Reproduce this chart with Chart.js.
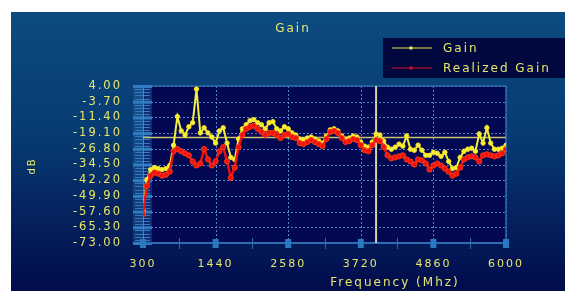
<!DOCTYPE html>
<html>
<head>
<meta charset="utf-8">
<script src="https://cdn.jsdelivr.net/npm/chart.js@4.4.1/dist/chart.umd.min.js"></script>
<style>
  html, body { margin: 0; padding: 0; background: #fff; }
  canvas { display: block; }
</style>
</head>
<body>
<canvas id="mycanvas" width="565" height="291"></canvas>
<script>
// frequency points (MHz)
var freqs = [
  300, 360, 420, 480, 540, 600, 660, 720, 780, 840, 900, 960,
  1020, 1080, 1140, 1200, 1260, 1320, 1380, 1440, 1500, 1560, 1620, 1680,
  1740, 1800, 1860, 1920, 1980, 2040, 2100, 2160, 2220, 2280, 2340, 2400,
  2460, 2520, 2580, 2640, 2700, 2760, 2820, 2880, 2940, 3000, 3060, 3120,
  3180, 3240, 3300, 3360, 3420, 3480, 3540, 3600, 3660, 3720, 3780, 3840,
  3900, 3960, 4020, 4080, 4140, 4200, 4260, 4320, 4380, 4440, 4500, 4560,
  4620, 4680, 4740, 4800, 4860, 4920, 4980, 5040, 5100, 5160, 5220, 5280,
  5340, 5400, 5460, 5520, 5580, 5640, 5700, 5760, 5820, 5880, 5940, 6000
];

var gain = [
  -57, -42, -37, -36, -36.5, -37, -36.5, -35, -25, -11, -18, -20,
  -16, -14, 2.5, -19, -16.5, -19, -21, -24, -18, -16.5, -24, -31,
  -32, -22, -17, -15, -13, -12.5, -14, -15, -17, -14, -13.5, -17,
  -18, -16, -17, -19, -20, -22, -22.5, -21.5, -21, -22, -23, -24,
  -20.5, -17.5, -17, -18, -20.5, -22, -21.5, -20.5, -21, -23.5, -25.5, -26,
  -23.5, -19.5, -20, -23, -26, -27, -26, -24.5, -25.5, -20.5, -27, -27.5,
  -25, -27.5, -30, -30, -28.5, -29, -30.5, -28.5, -33, -36.5, -36, -31,
  -28, -27, -26.5, -28, -19.5, -24, -16.5, -24, -27, -27, -26.5, -25
];

var realizedGain = [
  -58.8, -45, -40, -38.5, -39, -40, -39.5, -38, -28, -27, -28, -29,
  -30, -33, -35, -34, -27, -32, -35, -33, -28, -26, -33, -41,
  -36, -26, -20, -17, -16, -15.5, -17, -18.5, -20, -19, -19, -20,
  -21.5, -20, -19.5, -21, -21.5, -24, -24.5, -23.5, -22.5, -23.5, -24.5, -25.5,
  -22, -18.5, -18, -19, -21.5, -23.5, -23, -22, -22.5, -25, -27.5, -28,
  -25, -22.5, -23, -26, -30, -31.5, -31, -30.5, -30, -32, -33, -34.5,
  -32, -32.5, -34, -37, -35, -34, -35, -36.5, -38, -40, -39, -36,
  -32, -31, -30.5, -31, -33, -30, -29.5, -30, -30.5, -30, -29, -27
];

var xTicks = [300, 1440, 2580, 3720, 4860, 6000];
var yTicks = [4.00, -3.70, -11.40, -19.10, -26.80, -34.50, -42.20, -49.90, -57.60, -65.30, -73.00];

// marker lines
var markerY = -21.3;
var markerX = 3960;

var yellow = '#f2f03a';
var txt = '#e8e66a';

function pts(xs, ys) {
  var out = [];
  for (var i = 0; i < xs.length; i++) out.push({ x: xs[i], y: ys[i] });
  return out;
}

var decor = {
  id: 'decor',
  beforeDraw: function(chart) {
    var ctx = chart.ctx, a = chart.chartArea;
    ctx.save();
    ctx.fillStyle = '#ffffff';
    ctx.fillRect(0, 0, 565, 291);
    var g = ctx.createLinearGradient(0, 12, 0, 291);
    g.addColorStop(0, '#0c4b80');
    g.addColorStop(0.45, '#073a72');
    g.addColorStop(1, '#020b4c');
    ctx.fillStyle = g;
    ctx.fillRect(11, 12, 554, 279);
    // plot area
    ctx.fillStyle = '#020852';
    ctx.fillRect(a.left, a.top, a.right - a.left, a.bottom - a.top);
    ctx.restore();
    ctx.letterSpacing = '2px';
  },
  beforeDatasetsDraw: function(chart) {
    var ctx = chart.ctx, a = chart.chartArea;
    var ys = chart.scales.y, xs = chart.scales.x;
    ctx.save();
    // dotted grid
    ctx.strokeStyle = '#4f86cc';
    ctx.lineWidth = 1;
    ctx.setLineDash([2, 2]);
    yTicks.forEach(function(v) {
      var yy = Math.round(ys.getPixelForValue(v)) + 0.5;
      ctx.beginPath();
      ctx.moveTo(a.left, yy); ctx.lineTo(a.right, yy);
      ctx.stroke();
    });
    xTicks.forEach(function(v) {
      var xx = Math.round(xs.getPixelForValue(v)) + 0.5;
      ctx.beginPath();
      ctx.moveTo(xx, a.top); ctx.lineTo(xx, a.bottom);
      ctx.stroke();
    });
    ctx.setLineDash([]);
    // frame
    ctx.strokeStyle = '#2a6aa8';
    ctx.lineWidth = 1.5;
    ctx.beginPath();
    ctx.moveTo(a.left, a.top); ctx.lineTo(a.right, a.top); ctx.lineTo(a.right, a.bottom);
    ctx.stroke();
    // y ruler band
    ctx.fillStyle = 'rgba(40,110,180,0.35)';
    ctx.fillRect(a.left - 10, a.top, 19, a.bottom - a.top);
    ctx.strokeStyle = '#3479bd';
    ctx.lineWidth = 1;
    for (var i = 0; i < yTicks.length - 1; i++) {
      var y0 = ys.getPixelForValue(yTicks[i]);
      var y1 = ys.getPixelForValue(yTicks[i + 1]);
      for (var k = 1; k < 5; k++) {
        var yy = Math.round(y0 + (y1 - y0) * k / 5) + 0.5;
        ctx.beginPath();
        ctx.moveTo(a.left - 8, yy); ctx.lineTo(a.left + 7, yy);
        ctx.stroke();
      }
    }
    ctx.fillStyle = '#2f7cc4';
    yTicks.forEach(function(v) {
      var yy = ys.getPixelForValue(v);
      ctx.fillRect(a.left - 10, yy - 1, 19, 3);
    });
    ctx.strokeStyle = '#3d86cc';
    ctx.beginPath();
    ctx.moveTo(a.left + 0.5, a.top); ctx.lineTo(a.left + 0.5, a.bottom);
    ctx.stroke();
    // x axis line + ticks
    ctx.strokeStyle = '#2a6db0';
    ctx.lineWidth = 2;
    ctx.beginPath();
    ctx.moveTo(a.left, a.bottom); ctx.lineTo(a.right, a.bottom);
    ctx.stroke();
    ctx.lineWidth = 1;
    for (var j = 0; j < xTicks.length; j++) {
      var xx = xs.getPixelForValue(xTicks[j]);
      ctx.fillStyle = '#2a78c0';
      ctx.fillRect(xx - 3, a.bottom - 4, 6, 9);
      if (j < xTicks.length - 1) {
        var xm = Math.round(xs.getPixelForValue((xTicks[j] + xTicks[j + 1]) / 2)) + 0.5;
        ctx.beginPath();
        ctx.moveTo(xm, a.bottom - 5); ctx.lineTo(xm, a.bottom + 6);
        ctx.stroke();
      }
    }
    ctx.restore();
  },
  afterDraw: function(chart) {
    var ctx = chart.ctx;
    ctx.save();
    ctx.letterSpacing = '2px';
    ctx.fillStyle = txt;
    ctx.textBaseline = 'middle';
    ctx.textAlign = 'center';
    ctx.font = '12px "DejaVu Sans"';
    ctx.fillText('Gain', 293, 29);
    ctx.fillText('Frequency (Mhz)', 395, 283);
    // y title
    ctx.save();
    ctx.translate(32, 166);
    ctx.rotate(-Math.PI / 2);
    ctx.font = '10px "DejaVu Sans"';
    ctx.fillText('dB', 0, 0);
    ctx.restore();
    // legend
    ctx.fillStyle = '#01083e';
    ctx.fillRect(383, 38, 182, 40);
    var items = [['Gain', '#e8e650', 48], ['Realized Gain', '#d0102a', 68]];
    items.forEach(function(it) {
      ctx.strokeStyle = it[1];
      ctx.lineWidth = 1.2;
      ctx.beginPath();
      ctx.moveTo(392, it[2]); ctx.lineTo(432, it[2]);
      ctx.stroke();
      ctx.fillStyle = it[1];
      ctx.beginPath();
      ctx.arc(411, it[2], 1.8, 0, Math.PI * 2);
      ctx.fill();
      ctx.fillStyle = txt;
      ctx.textAlign = 'left';
      ctx.font = '12px "DejaVu Sans"';
      ctx.fillText(it[0], 443, it[2] + 1);
    });
    ctx.restore();
  }
};

var ctx = document.getElementById('mycanvas');
var chart = new Chart(ctx, {
  type: 'line',
  data: {
    datasets: [
      {
        label: 'Gain',
        data: pts(freqs, gain),
        borderColor: yellow,
        backgroundColor: yellow,
        pointBorderColor: '#ffe020',
        borderWidth: 2,
        pointRadius: 2.2,
        pointBorderWidth: 1,
        order: 1
      },
      {
        label: 'Realized Gain',
        data: pts(freqs, realizedGain),
        borderColor: '#ee1010',
        backgroundColor: '#f01010',
        pointBorderColor: '#ff3a10',
        borderWidth: 2.5,
        pointRadius: 2.6,
        pointBorderWidth: 1,
        order: 0
      },
      {
        label: 'mk1',
        data: [{ x: 300, y: markerY }, { x: 6000, y: markerY }],
        borderColor: '#c9c372',
        borderWidth: 1.5,
        pointRadius: 0,
        order: 3
      },
      {
        label: 'mk2',
        data: [{ x: markerX, y: -73 }, { x: markerX, y: 4 }],
        borderColor: '#d9d2a8',
        borderWidth: 2,
        pointRadius: 0,
        order: 3
      }
    ]
  },
  plugins: [decor],
  options: {
    responsive: false,
    animation: false,
    devicePixelRatio: 1,
    layout: { padding: { left: 0, top: 86, right: 59, bottom: 0 } },
    plugins: {
      legend: { display: false },
      title: { display: false },
      tooltip: { enabled: false }
    },
    scales: {
      x: {
        type: 'linear',
        min: 300,
        max: 6000,
        afterFit: function(s) { s.height = 48; },
        afterBuildTicks: function(s) { s.ticks = xTicks.map(function(v) { return { value: v }; }); },
        ticks: {
          color: txt,
          font: { family: 'DejaVu Sans', size: 11 },
          padding: 7,
          maxRotation: 0,
          autoSkip: false,
          callback: function(v) { return String(v); }
        },
        grid: { display: false },
        border: { display: false }
      },
      y: {
        min: -73,
        max: 4,
        afterFit: function(s) { s.width = 143; },
        afterBuildTicks: function(s) { s.ticks = yTicks.map(function(v) { return { value: v }; }); },
        ticks: {
          color: txt,
          font: { family: 'DejaVu Sans', size: 11.5 },
          padding: 13,
          autoSkip: false,
          callback: function(v) { return v.toFixed(2); }
        },
        grid: { display: false },
        border: { display: false }
      }
    }
  }
});
</script>
</body>
</html>
